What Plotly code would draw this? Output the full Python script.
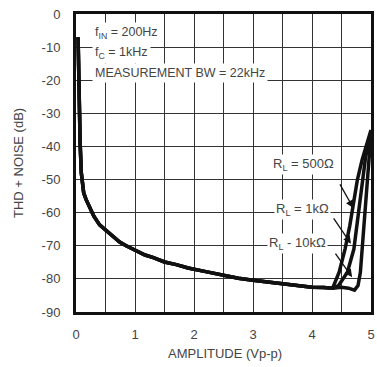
import plotly.graph_objects as go

# Shared low-amplitude part of the curves (Vp-p, dB)
common_x = [0.035, 0.045, 0.055, 0.07, 0.09, 0.11, 0.13, 0.17, 0.23, 0.30, 0.40, 0.50, 0.60, 0.74, 0.85,
            1.00, 1.17, 1.30, 1.50, 1.70, 1.90, 2.20, 2.47, 2.75, 3.00, 3.25, 3.50, 3.75,
            4.00, 4.20, 4.35]
common_y = [-7, -18, -28, -39, -48, -52, -54, -56, -58.5, -61, -63.7, -65.2, -66.5, -68.9, -70,
            -71.3, -72.8, -73.5, -74.9, -75.7, -76.7, -77.8, -78.9, -79.8, -80.4, -80.9, -81.3, -81.9,
            -82.5, -82.6, -82.8]

# Clipping tails per load
tail_500_x = [4.46, 4.56, 4.64, 4.70, 4.77, 4.85, 4.93, 5.00]
tail_500_y = [-78, -71, -64, -58, -50, -44, -39, -35]
tail_1k_x = [4.45, 4.55, 4.60, 4.71, 4.76, 4.80, 4.85, 4.91, 4.97, 5.00]
tail_1k_y = [-82, -79.5, -78, -71, -64, -58, -50, -43, -39, -37]
tail_10k_x = [4.50, 4.62, 4.72, 4.78, 4.82, 4.85, 4.90, 4.93, 4.97, 5.00]
tail_10k_y = [-82.5, -82.8, -83.4, -82, -78, -71, -58, -50, -43, -39]

x_ticks = [0, 1, 2, 3, 4, 5]
y_ticks = [0, -10, -20, -30, -40, -50, -60, -70, -80, -90]

FONT = "Liberation Sans, Arial, sans-serif"
TXT = "#444444"

fig = go.Figure()
for tx, ty in [(tail_500_x, tail_500_y), (tail_1k_x, tail_1k_y), (tail_10k_x, tail_10k_y)]:
    fig.add_trace(go.Scatter(x=common_x + tx, y=common_y + ty, mode="lines",
                             line=dict(color="#111111", width=3.5), showlegend=False,
                             hoverinfo="skip"))

grid_x = [i * 0.5 for i in range(11)]
fig.update_xaxes(range=[0, 5], tickvals=grid_x,
                 ticktext=[str(int(v)) if v in x_ticks else "" for v in grid_x],
                 showgrid=True, gridcolor="#333333", gridwidth=1,
                 showline=True, linecolor="#111111", linewidth=3, mirror=True,
                 ticks="", zeroline=False, ticklabelstandoff=8,
                 tickfont=dict(family=FONT, size=13, color=TXT))
fig.update_yaxes(range=[-90, 0], tickvals=y_ticks, ticktext=[str(v) for v in y_ticks],
                 showgrid=True, gridcolor="#333333", gridwidth=1,
                 showline=True, linecolor="#111111", linewidth=3, mirror=True,
                 ticks="", zeroline=False, ticklabelstandoff=10,
                 tickfont=dict(family=FONT, size=13, color=TXT))

ann = []
# axis titles
ann.append(dict(text="AMPLITUDE (Vp-p)", xref="paper", yref="paper", x=0.505, y=0,
                yshift=-41, showarrow=False, xanchor="center", yanchor="middle",
                font=dict(family=FONT, size=13, color=TXT)))
ann.append(dict(text="THD + NOISE (dB)", xref="paper", yref="paper", x=0, y=0.5,
                xshift=-58, textangle=-90, showarrow=False, xanchor="center", yanchor="middle",
                font=dict(family=FONT, size=13, color=TXT)))
# conditions block
for txt, yv in [("f<sub>IN</sub> = 200Hz", -5.8), ("f<sub>C</sub> = 1kHz", -11.8),
                ("MEASUREMENT BW = 22kHz", -17.8)]:
    ann.append(dict(text=txt, x=0.27, y=yv, xref="x", yref="y", showarrow=False,
                    xanchor="left", yanchor="middle", bgcolor="white", borderpad=2,
                    font=dict(family=FONT, size=12.5, color=TXT)))
# load labels
for txt, tx, ty in [("R<sub>L</sub> = 500Ω", 3.86, -45.5), ("R<sub>L</sub> = 1kΩ", 3.84, -59),
                    ("R<sub>L</sub> - 10kΩ", 3.76, -69.3)]:
    ann.append(dict(text=txt, x=tx, y=ty, xref="x", yref="y", showarrow=False,
                    xanchor="center", yanchor="middle", bgcolor="white", borderpad=1,
                    font=dict(family=FONT, size=13, color=TXT)))
# arrows
for hx, hy, sx, sy in [(4.70, -58.6, 4.46, -51.0), (4.66, -69.4, 4.35, -61.3),
                       (4.68, -79.5, 4.38, -71.9)]:
    ann.append(dict(text="", x=hx, y=hy, ax=sx, ay=sy, xref="x", yref="y",
                    axref="x", ayref="y", showarrow=True, arrowhead=2, arrowsize=1.2,
                    arrowwidth=1.3, arrowcolor="#111111"))

fig.update_layout(width=377, height=367, margin=dict(l=76, r=3, t=14, b=55),
                  plot_bgcolor="white", paper_bgcolor="white", annotations=ann,
                  font=dict(family=FONT, size=13, color=TXT))

fig.write_html("out.html")
